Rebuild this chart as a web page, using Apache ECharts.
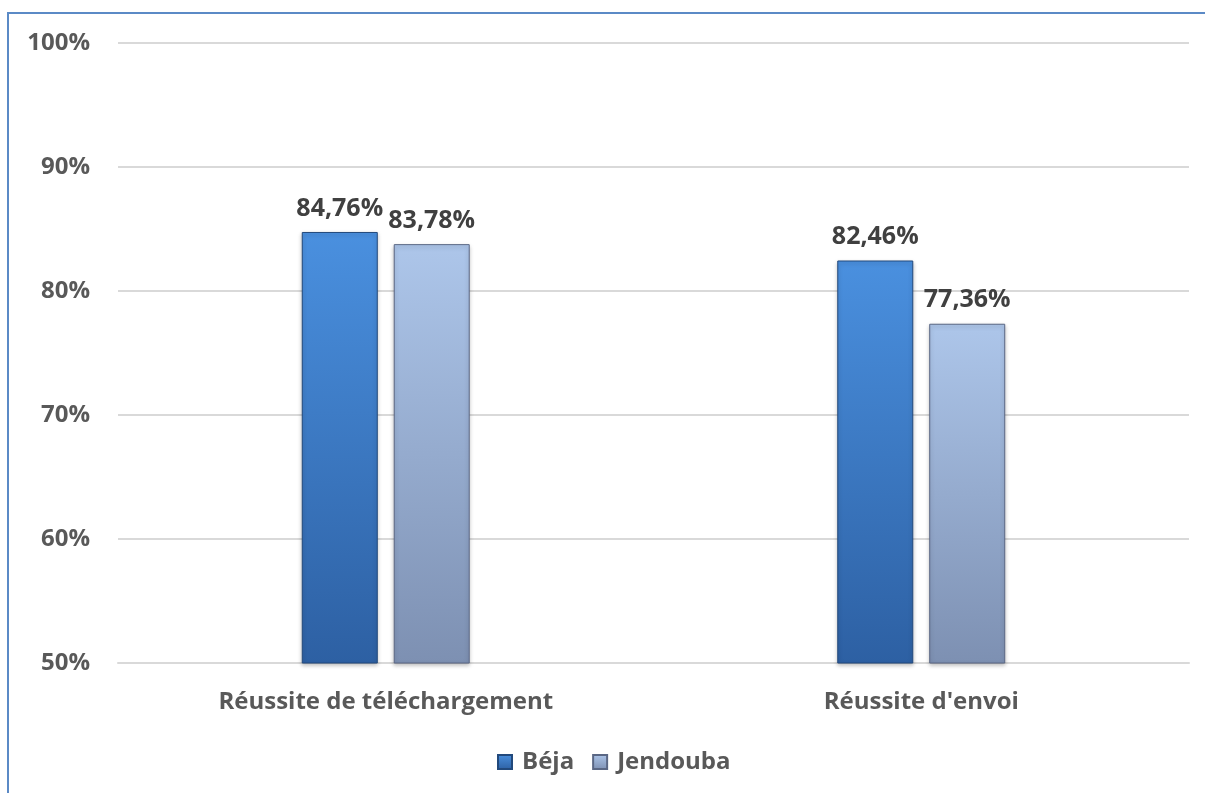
<!DOCTYPE html>
<html>
<head>
<meta charset="utf-8">
<script src="https://cdn.jsdelivr.net/npm/echarts@6/dist/echarts.min.js"></script>
<style>
  html, body { margin: 0; padding: 0; background: #fff; }
  #frame { position: absolute; left: 7px; top: 12px; width: 1300px; height: 900px;
           border-left: 2px solid #5b8ac6; border-top: 2px solid #5b8ac6; }
  #main { position: absolute; left: 0; top: 0; width: 1205px; height: 793px; }
</style>
</head>
<body>
<div id="frame"></div>
<div id="main"></div>
<script>
// catégories et valeurs (en %)
const categories = ["Réussite de téléchargement", "Réussite d'envoi"];
const seriesNames = ["Béja", "Jendouba"];
const bejaValues = [84.76, 82.46];
const jendoubaValues = [83.78, 77.36];
const yTicks = [50, 60, 70, 80, 90, 100];

const font = "'Open Sans', 'Noto Sans', sans-serif";

function grad(top, bottom) {
  return new echarts.graphic.LinearGradient(0, 0, 0, 1, [
    { offset: 0, color: top },
    { offset: 1, color: bottom }
  ]);
}

function fmt(v) {
  return v.toFixed(2).replace('.', ',') + '%';
}

let myChart = echarts.init(document.getElementById("main"));
let option = {
  animation: false,
  grid: { left: 118, right: 16, top: 43, bottom: 130 },
  legend: {
    data: seriesNames,
    bottom: 14,
    left: 492,
    icon: 'rect',
    itemWidth: 14,
    itemHeight: 14,
    itemGap: 18,
    textStyle: { color: '#595959', fontSize: 24, fontWeight: 'bold', fontFamily: font, padding: [0, 0, 0, 5] }
  },
  xAxis: {
    type: 'category',
    data: categories,
    axisLine: { lineStyle: { color: '#d9d9d9', width: 2 } },
    axisTick: { show: false },
    axisLabel: { color: '#595959', fontSize: 24, fontWeight: 'bold', fontFamily: font, margin: 27 }
  },
  yAxis: {
    type: 'value',
    min: yTicks[0],
    max: yTicks[yTicks.length - 1],
    interval: 10,
    axisLine: { show: false },
    axisTick: { show: false },
    splitLine: { lineStyle: { color: '#d9d9d9', width: 2 } },
    axisLabel: {
      color: '#595959', fontSize: 24, fontWeight: 'bold', fontFamily: font, margin: 28,
      formatter: v => v + '%'
    }
  },
  series: [
    {
      name: seriesNames[0],
      type: 'bar',
      data: bejaValues,
      barWidth: 76,
      barGap: '21%',
      itemStyle: {
        color: grad('#4a90df', '#2d60a3'), borderColor: '#22497c', borderWidth: 1,
        shadowColor: 'rgba(0,0,0,0.25)', shadowBlur: 4, shadowOffsetY: 2
      },
      label: {
        show: true, position: 'top', distance: 11,
        color: '#404040', fontSize: 25, fontWeight: 'bold', fontFamily: font,
        formatter: p => fmt(p.value)
      }
    },
    {
      name: seriesNames[1],
      type: 'bar',
      data: jendoubaValues,
      barWidth: 76,
      itemStyle: {
        color: grad('#adc6ea', '#7d90b2'), borderColor: '#5a6784', borderWidth: 1,
        shadowColor: 'rgba(0,0,0,0.25)', shadowBlur: 4, shadowOffsetY: 2
      },
      label: {
        show: true, position: 'top', distance: 11,
        color: '#404040', fontSize: 25, fontWeight: 'bold', fontFamily: font,
        formatter: p => fmt(p.value)
      }
    }
  ]
};
myChart.setOption(option);
</script>
</body>
</html>
